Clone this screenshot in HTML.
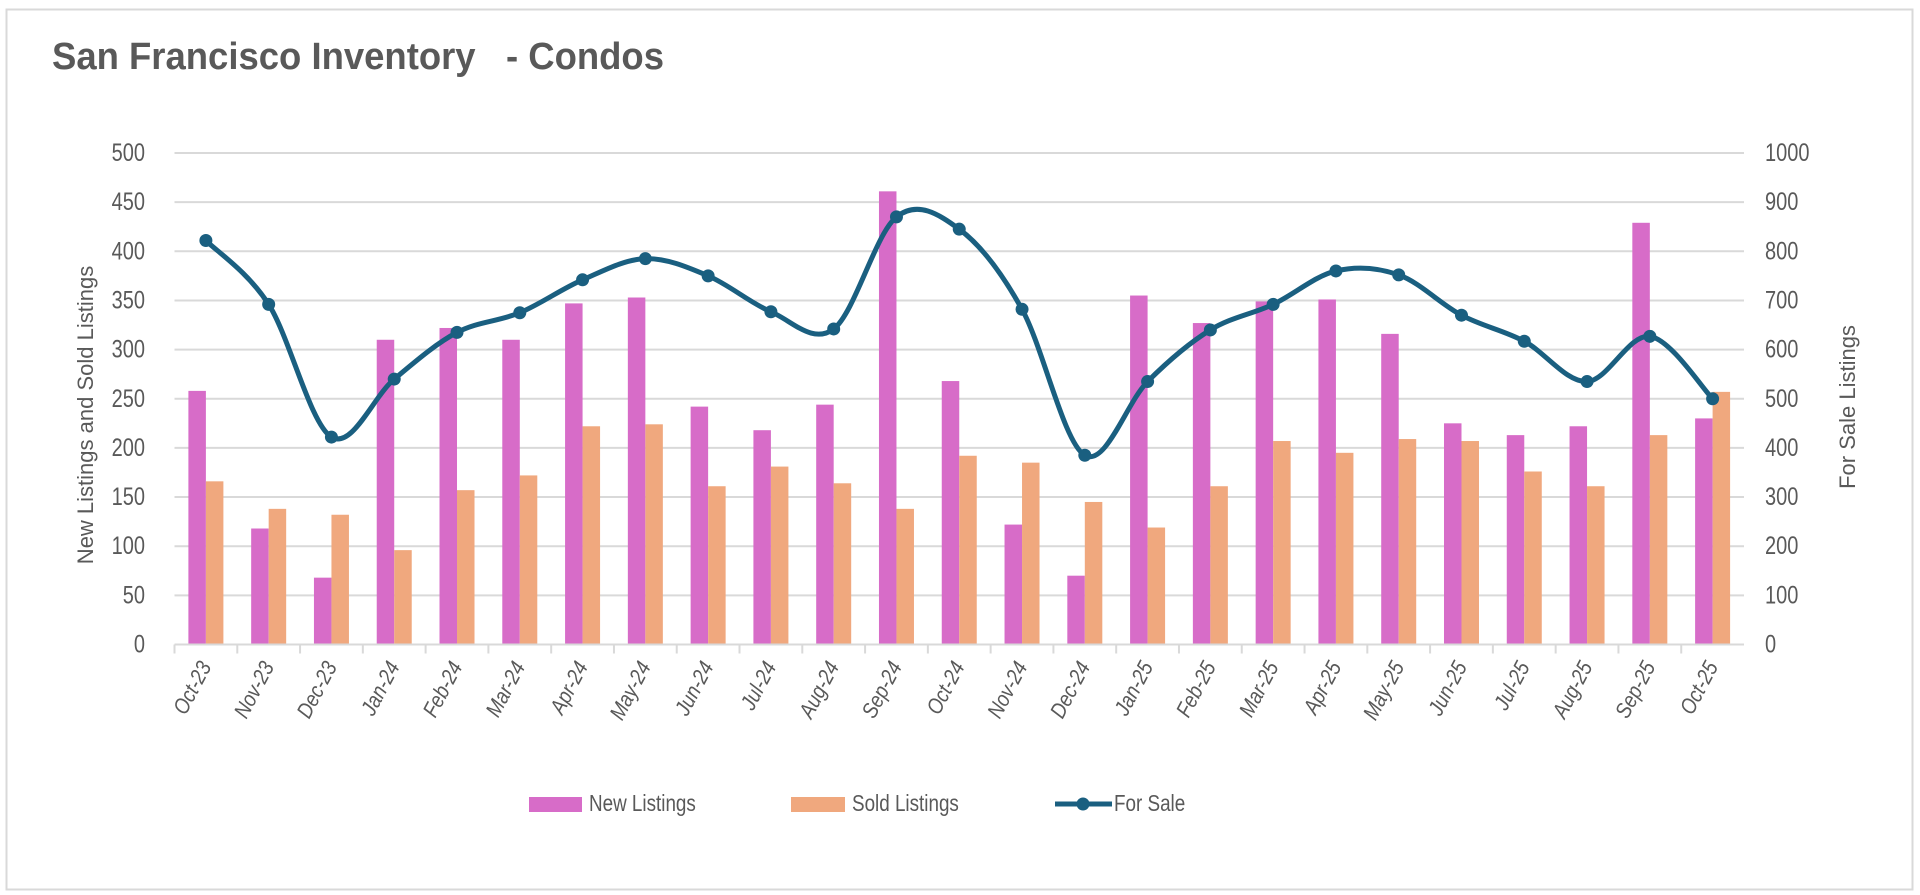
<!DOCTYPE html>
<html><head><meta charset="utf-8"><style>
html,body{margin:0;padding:0;background:#fff;}
svg{display:block;font-family:"Liberation Sans",sans-serif;}
</style></head><body>
<svg id="chart" width="1920" height="895" viewBox="0 0 1920 895" xmlns="http://www.w3.org/2000/svg">
<rect x="6.5" y="9.5" width="1906" height="880" fill="#fff" stroke="#d9d9d9" stroke-width="2"/>
<text x="52" y="69" font-size="38" font-weight="bold" fill="#595959" textLength="612" lengthAdjust="spacingAndGlyphs" xml:space="preserve">San Francisco Inventory   - Condos</text>
<g id="grid"></g><g id="bars"></g><g id="line"></g><g id="axes"></g>
<text transform="translate(93,415) rotate(-90)" text-anchor="middle" font-size="22" fill="#595959">New Listings and Sold Listings</text>
<text transform="translate(1855,407) rotate(-90)" text-anchor="middle" font-size="22" fill="#595959">For Sale Listings</text>
<g>
<rect x="529" y="797" width="53" height="15" fill="#d76cc8"/>
<text transform="translate(589,811) scale(0.82,1)" font-size="23" fill="#595959">New Listings</text>
<rect x="791" y="797" width="54" height="15" fill="#f0a87e"/>
<text transform="translate(852,811) scale(0.82,1)" font-size="23" fill="#595959">Sold Listings</text>
<line x1="1055" y1="804" x2="1112" y2="804" stroke="#1a5f80" stroke-width="5"/>
<circle cx="1083" cy="804" r="6.5" fill="#1a5f80"/>
<text transform="translate(1114,811) scale(0.82,1)" font-size="23" fill="#595959">For Sale</text>
</g>
</svg>
<script>
const categories=["Oct-23","Nov-23","Dec-23","Jan-24","Feb-24","Mar-24","Apr-24","May-24","Jun-24","Jul-24","Aug-24","Sep-24","Oct-24","Nov-24","Dec-24","Jan-25","Feb-25","Mar-25","Apr-25","May-25","Jun-25","Jul-25","Aug-25","Sep-25","Oct-25"];
const newListings=[258,118,68,310,322,310,347,353,242,218,244,461,268,122,70,355,327,349,351,316,225,213,222,429,230];
const soldListings=[166,138,132,96,157,172,222,224,161,181,164,138,192,185,145,119,161,207,195,209,207,176,161,213,257];
const forSale=[822,692,422,540,635,675,742,785,750,677,642,870,845,682,385,535,640,692,760,752,670,617,535,627,500];
const leftTicks=[0,50,100,150,200,250,300,350,400,450,500];
const rightTicks=[0,100,200,300,400,500,600,700,800,900,1000];

const NS="http://www.w3.org/2000/svg";
const X0=174.5,X1=1744,Y0=644.5,Ytop=153;
const cw=(X1-X0)/categories.length;
const yL=v=>Y0-(v/500)*(Y0-Ytop);
const yR=v=>Y0-(v/1000)*(Y0-Ytop);
const xC=i=>X0+cw*(i+0.5);
function mk(tag,attrs,parent,txt){const e=document.createElementNS(NS,tag);for(const k in attrs)e.setAttribute(k,attrs[k]);if(txt!==undefined)e.textContent=txt;parent.appendChild(e);return e;}
const grid=document.getElementById('grid'),bars=document.getElementById('bars'),line=document.getElementById('line'),axes=document.getElementById('axes');

leftTicks.forEach((t,i)=>{
  const y=yL(t);
  if(t>0){const g=mk('line',{x1:X0,x2:X1,y1:y,y2:y,stroke:'#d9d9d9','stroke-width':2},grid);
  
  }
  const tx=mk('text',{transform:`translate(145,${y+8}) scale(0.8,1)`,'text-anchor':'end','font-size':25,fill:'#595959'},axes,String(t));
  
  
});
rightTicks.forEach(t=>{
  const tx=mk('text',{transform:`translate(1765,${yR(t)+8}) scale(0.8,1)`,'font-size':25,fill:'#595959'},axes,String(t));
  
  
});
const ax=mk('line',{x1:X0,x2:X1,y1:Y0,y2:Y0,stroke:'#d9d9d9','stroke-width':2},axes);


const bw=17.5;
categories.forEach((c,i)=>{
  const tk=mk('line',{x1:X0+cw*i,x2:X0+cw*i,y1:Y0,y2:Y0+9,stroke:'#d9d9d9','stroke-width':2},axes);
  
  
  const cx=xC(i);
  const b1=mk('rect',{x:cx-bw,y:yL(newListings[i]),width:bw,height:Y0-yL(newListings[i]),fill:'#d76cc8'},bars);
  
  
  const b2=mk('rect',{x:cx,y:yL(soldListings[i]),width:bw,height:Y0-yL(soldListings[i]),fill:'#f0a87e'},bars);
  
  
  const lb=mk('text',{transform:`translate(${cx+6},${Y0+22}) rotate(-62) scale(0.85,1)`,'text-anchor':'end','font-size':22,'font-style':'italic',fill:'#595959'},axes,c);
  
  
});
const pts=forSale.map((v,i)=>[xC(i),yR(v)]);
let d=`M${pts[0][0]},${pts[0][1]}`;
for(let i=0;i<pts.length-1;i++){
  const p0=pts[Math.max(0,i-1)],p1=pts[i],p2=pts[i+1],p3=pts[Math.min(pts.length-1,i+2)];
  const t=1/6;
  d+=` C${p1[0]+(p2[0]-p0[0])*t},${p1[1]+(p2[1]-p0[1])*t} ${p2[0]-(p3[0]-p1[0])*t},${p2[1]-(p3[1]-p1[1])*t} ${p2[0]},${p2[1]}`;
}
const pl=mk('path',{d:d,fill:'none',stroke:'#1a5f80','stroke-width':5,'stroke-linejoin':'round'},line);


pts.forEach(p=>{
  const m=mk('circle',{cx:p[0],cy:p[1],r:6.5,fill:'#1a5f80'},line);
  
  
});
</script>
</body></html>
